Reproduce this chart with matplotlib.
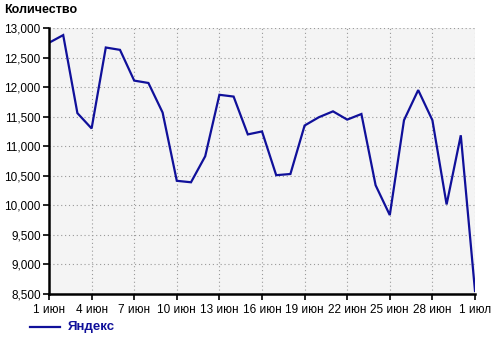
import matplotlib
matplotlib.use("Agg")
import matplotlib.pyplot as plt
from matplotlib.ticker import FuncFormatter

plt.rcParams["font.family"] = ["Liberation Sans", "DejaVu Sans"]

# Daily values, 1 June .. 1 July
days = list(range(31))
values = [
    12750, 12880, 11560, 11300, 12670, 12630, 12110, 12070, 11570, 10415,
    10390, 10830, 11870, 11840, 11200, 11250, 10510, 10530, 11350, 11490,
    11590, 11450, 11545, 10340, 9835, 11440, 11950, 11440, 10015, 11185,
    8550,
]
tick_pos = [0, 3, 6, 9, 12, 15, 18, 21, 24, 27, 30]
tick_labels = ["1 июн", "4 июн", "7 июн", "10 июн", "13 июн", "16 июн",
               "19 июн", "22 июн", "25 июн", "28 июн", "1 июл"]
y_ticks = [8500, 9000, 9500, 10000, 10500, 11000, 11500, 12000, 12500, 13000]

LINE_COLOR = "#10109a"

fig = plt.figure(figsize=(5.0, 3.39), dpi=100)
ax = fig.add_axes([49 / 500, 1 - 294 / 339, 426 / 500, 266 / 339])
ax.set_facecolor("#f4f4f4")

ax.plot(days, values, color=LINE_COLOR, linewidth=1.6, solid_joinstyle="miter")

ax.set_xlim(0, 30)
ax.set_ylim(8500, 13000)
ax.set_xticks(tick_pos)
ax.set_xticklabels(tick_labels)
ax.set_yticks(y_ticks)
ax.yaxis.set_major_formatter(FuncFormatter(lambda v, p: f"{int(v):,}"))

ax.grid(True, color="#999999", linestyle=(0, (1, 2.5)), linewidth=0.8)
ax.set_axisbelow(True)
for side in ("top", "right"):
    ax.spines[side].set_visible(False)
for side in ("left", "bottom"):
    ax.spines[side].set_linewidth(1.8)
    ax.spines[side].set_color("black")

ax.tick_params(axis="both", labelsize=8.5, colors="black", length=4, width=1.2)
ax.tick_params(axis="x", pad=3)
ax.tick_params(axis="y", pad=2)

fig.text(4 / 500, 1 - 10 / 339, "Количество", fontsize=9, fontweight="bold",
         va="center", ha="left")

# legend
fig.add_artist(plt.Line2D([30 / 500, 60 / 500], [1 - 327 / 339] * 2,
                          color=LINE_COLOR, linewidth=1.6))
fig.text(68 / 500, 1 - 327 / 339, "Яндекс", fontsize=9.5, fontweight="bold",
         color=LINE_COLOR, va="center", ha="left")

fig.savefig("out.png", dpi=100)
